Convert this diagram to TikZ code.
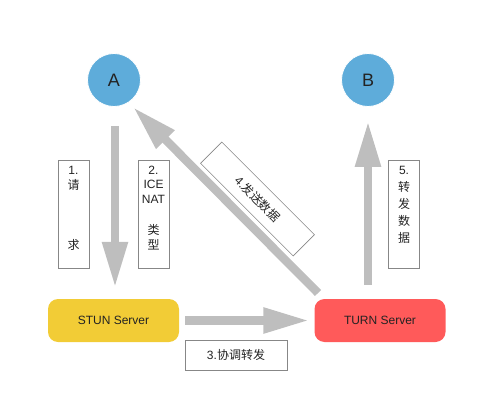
\documentclass[tikz,border=0pt]{standalone}
\usepackage{fontspec}
\setmainfont{Liberation Sans}
\newfontfamily\cjk{Noto Sans CJK SC}
\usetikzlibrary{arrows.meta}
\definecolor{nodeblue}{RGB}{94,172,218}
\definecolor{stunyellow}{RGB}{242,204,54}
\definecolor{turnred}{RGB}{255,90,90}
\definecolor{arrowgray}{RGB}{190,190,190}
\definecolor{boxgray}{RGB}{135,135,135}
\definecolor{textdark}{RGB}{35,35,35}
\begin{document}
\begin{tikzpicture}[x=1pt,y=-1pt,
  fatarrow/.style={draw=arrowgray, line width=8.5pt, -{Triangle[width=24pt,length=46pt]}},
  peer/.style={circle, fill=nodeblue, draw=white, line width=0.8pt, minimum size=53pt, inner sep=0pt, text=textdark, font=\fontsize{18}{20}\selectfont},
  server/.style={rounded corners=10pt, minimum width=131pt, minimum height=43pt, inner sep=0pt, text=textdark, font=\fontsize{12}{14}\selectfont},
  labelbox/.style={draw=boxgray, line width=0.6pt, inner sep=0pt, fill=white, text=textdark, font=\fontsize{12}{14}\selectfont},
  tallbox/.style={labelbox, minimum width=31pt, minimum height=108pt}
]
\useasboundingbox (0,0) rectangle (495,401);
\node[peer] (A) at (114,80) {A};
\node[peer] (B) at (368,80) {B};
\node[server, fill=stunyellow] (stun) at (113.5,320.5) {STUN Server};
\node[server, fill=turnred] (turn) at (380,320.5) {TURN Server};
\coordinate (dtail) at (318,293);
\coordinate (dtip) at (133,107);
% arrows
\draw[fatarrow, shorten <=19pt, shorten >=11pt] ([xshift=1pt]A.south) -- ([xshift=1pt]A.south |- stun.north);
\draw[fatarrow, shorten <=14pt, shorten >=14pt] (B |- turn.north) -- (B.south);
\draw[fatarrow, shorten <=6pt, shorten >=5pt] (stun.east) -- (turn.west);
\draw[fatarrow] (dtail) -- (dtip);
% labels
\node[tallbox] (l1) at (73.5,214) {\parbox[c][96pt][t]{28pt}{\centering\fontsize{12}{15}\selectfont 1.\\{\cjk 请}\\[45.5pt]{\cjk 求}}};
\node[tallbox] (l2) at (153.5,214) {\parbox[c][96pt][t]{28pt}{\centering\fontsize{12}{14.5}\selectfont 2.\\ICE\\NAT\\[17pt]{\cjk 类}\\{\cjk 型}}};
\node[tallbox] (l5) at (404,214) {\parbox[c][96pt][t]{28pt}{\centering\fontsize{12}{17}\selectfont 5.\\{\cjk 转}\\{\cjk 发}\\{\cjk 数}\\{\cjk 据}}};
\node[labelbox, minimum width=102pt, minimum height=30pt] (l3) at (236,355) {3.{\cjk 协调转发}};
\node[labelbox, minimum width=131pt, minimum height=30pt, rotate=-45] (l4) at (257.5,199) {4.{\cjk 发送数据}};
\end{tikzpicture}
\end{document}
